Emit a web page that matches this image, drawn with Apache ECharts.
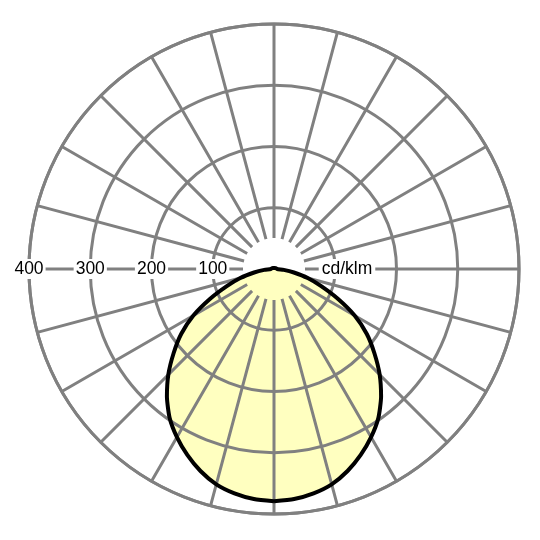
<!DOCTYPE html>
<html>
<head>
<meta charset="utf-8">
<script src="https://cdn.jsdelivr.net/npm/echarts@6/dist/echarts.min.js"></script>
<style>
  html, body { margin: 0; padding: 0; background: #fff; }
  #main { width: 540px; height: 540px; }
</style>
</head>
<body>
<div id="main"></div>
<script>
// gamma angle from nadir (deg) and intensity (cd/klm), curve is symmetric
var gammaAngles = [0, 5, 10, 15, 20, 25, 30, 35, 40, 45, 50, 55, 60, 65, 70, 75, 80, 85, 90, 120, 150, 180];
var intensity   = [379, 377, 372, 364, 351, 335, 317, 297, 272, 244, 214, 185, 152, 115, 82, 57, 33, 16, 5, 3, 2, 2];
var radiusTicks = [0, 100, 200, 300, 400];
var unitLabel = 'cd/klm';

var center = [274, 269];
var outerR = 245;
var gridColor = '#808080';
var gridWidth = 3;

// one side, then the mirrored side back down to nadir
var curve = [];
gammaAngles.forEach(function (g, i) { curve.push([intensity[i], g]); });
for (var i = gammaAngles.length - 2; i >= 0; i--) {
    curve.push([intensity[i], 360 - gammaAngles[i]]);
}

var myChart = echarts.init(document.getElementById('main'));
var option = {
    animation: false,
    polar: [
        { center: center, radius: outerR },          // data
        { center: center, radius: [31, outerR] },    // spokes
        { center: center, radius: outerR }           // circles + labels
    ],
    angleAxis: [
        { polarIndex: 0, type: 'value', min: 0, max: 360, startAngle: -90, clockwise: true,
          axisLine: { show: false }, axisTick: { show: false }, axisLabel: { show: false }, splitLine: { show: false } },
        { polarIndex: 1, type: 'value', min: 0, max: 360, interval: 15, startAngle: 0, z: 5,
          axisLine: { show: false },
          axisTick: { show: false }, axisLabel: { show: false },
          splitLine: { show: true, lineStyle: { color: gridColor, width: gridWidth } } },
        { polarIndex: 2, type: 'value', min: 0, max: 360, startAngle: 180, z: 5,
          axisLine: { show: true, lineStyle: { color: gridColor, width: gridWidth } },
          axisTick: { show: false }, axisLabel: { show: false }, splitLine: { show: false } }
    ],
    radiusAxis: [
        { polarIndex: 0, type: 'value', min: 0, max: 400,
          axisLine: { show: false }, axisTick: { show: false }, axisLabel: { show: false }, splitLine: { show: false } },
        { polarIndex: 1, type: 'value', min: 50, max: 400,
          axisLine: { show: false }, axisTick: { show: false }, axisLabel: { show: false }, splitLine: { show: false } },
        { polarIndex: 2, type: 'value', min: radiusTicks[0], max: radiusTicks[radiusTicks.length - 1],
          interval: radiusTicks[1] - radiusTicks[0], z: 6,
          axisLine: { show: false }, axisTick: { show: false },
          splitLine: { show: true, lineStyle: { color: gridColor, width: gridWidth } },
          axisLabel: {
              show: true, margin: 0, align: 'center', verticalAlign: 'middle',
              fontSize: 17.5, color: '#000', fontFamily: 'Liberation Sans',
              backgroundColor: '#fff', padding: [1, 2],
              formatter: function (v) { return v === 0 ? '' : String(v); }
          } }
    ],
    graphic: [{
        type: 'text', x: 347, y: 269, z: 20,
        style: {
            text: unitLabel, fontSize: 17.5, fontFamily: 'Liberation Sans', fill: '#000',
            align: 'center', verticalAlign: 'middle', backgroundColor: '#fff', padding: [1, 3]
        }
    }],
    series: [
        {   // fill under the grid
            type: 'line', coordinateSystem: 'polar', polarIndex: 0, z: 1,
            data: curve, showSymbol: false, smooth: 0.2,
            lineStyle: { width: 0 },
            areaStyle: { color: '#ffffc0', opacity: 1 }
        },
        {   // outline above the grid
            type: 'line', coordinateSystem: 'polar', polarIndex: 0, z: 10,
            data: curve, showSymbol: false, smooth: 0.2,
            lineStyle: { color: '#000', width: 4 }
        }
    ]
};
myChart.setOption(option);
</script>
</body>
</html>
